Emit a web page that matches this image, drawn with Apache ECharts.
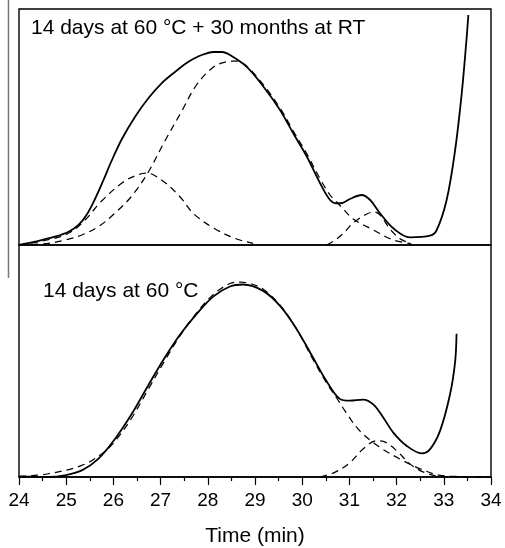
<!DOCTYPE html>
<html>
<head>
<meta charset="utf-8">
<script src="https://cdn.jsdelivr.net/npm/echarts@6/dist/echarts.min.js"></script>
<style>html,body{margin:0;padding:0;background:#fff}#c{width:505px;height:548px}</style>
</head>
<body>
<div id="c"></div>
<script>
// ---- Data (time in min, signal in arbitrary units) ----
const xTicks = [24, 25, 26, 27, 28, 29, 30, 31, 32, 33, 34];
const labelTop = '14 days at 60 °C + 30 months at RT';
const labelBottom = '14 days at 60 °C';
const xName = 'Time (min)';

// Top panel: measured trace
const topSolidT = [24.0, 24.34, 24.76, 25.05, 25.26, 25.43, 25.61, 25.79, 25.96, 26.18, 26.46, 26.74, 27.02, 27.31, 27.52, 27.69, 27.9, 28.12, 28.3, 28.47, 28.82, 29.18, 29.53, 29.81, 30.10, 30.38, 30.59, 30.73, 30.85, 31.01, 31.26, 31.44, 31.65, 31.93, 32.28, 32.71, 32.85, 33.06, 33.24, 33.38, 33.48, 33.52];
const topSolidV = [0, 3.3, 8.3, 13.3, 20, 30, 46, 65, 84, 106, 128.3, 146.7, 161.7, 173.3, 181, 186, 190.5, 193, 193, 190, 178.3, 158.3, 135, 111.7, 88.3, 61.7, 45, 41.7, 42, 46, 50, 45, 31.7, 16.7, 7.7, 9.3, 15, 45, 95, 151.7, 205, 230];
// Top panel: fitted components
const topFit1T = [24.0, 24.5, 25.05, 25.40, 25.75, 26.18, 26.45, 26.70, 27.02, 27.41, 27.69, 28.12, 28.61, 28.96];
const topFit1V = [0, 4, 11.7, 25, 44, 62, 69, 72, 65, 48.3, 31.7, 17, 6, 1.7];
const topFit2T = [24.0, 24.62, 24.97, 25.33, 25.68, 26.03, 26.39, 26.74, 27.09, 27.45, 27.76, 28.12, 28.40, 28.6, 28.82, 29.18, 29.53, 29.81, 30.10, 30.38, 30.59, 30.73, 30.87, 31.08, 31.51, 31.93, 32.30];
const topFit2V = [0, 1.7, 5, 10, 18.3, 31.7, 49, 73, 104, 134, 160, 178, 183.3, 184, 179, 160, 137, 114, 91, 66, 50, 43, 36, 26, 15, 5, 1.5];
const topFit3T = [30.52, 30.70, 30.87, 31.08, 31.37, 31.52, 31.65, 31.86, 32.05, 32.21, 32.32];
const topFit3V = [0, 5, 11.7, 22, 31, 33, 30, 16, 7, 3, 0.5];

// Bottom panel: measured trace
const botSolidT = [24.0, 24.62, 24.97, 25.33, 25.68, 26.03, 26.39, 26.74, 27.09, 27.41, 27.76, 28.12, 28.47, 28.75, 29.18, 29.53, 29.88, 30.24, 30.52, 30.80, 31.01, 31.29, 31.51, 31.72, 31.93, 32.21, 32.53, 32.71, 32.92, 33.13, 33.24, 33.27];
const botSolidV = [0.7, 0, 1.7, 6.7, 18.3, 38.3, 64, 93, 121, 144, 165, 183, 193, 195, 188.3, 173.3, 150, 120, 96.7, 79, 77.3, 78.3, 73.3, 60, 45, 31.7, 24, 28.3, 46.7, 83.3, 116.7, 145];
// Bottom panel: fitted components
const botFit1T = [24.0, 24.62, 25.33, 25.75, 26.03, 26.39, 26.74, 27.09, 27.41, 27.76, 28.12, 28.47, 28.68, 28.9, 29.18, 29.53, 29.88, 30.24, 30.52, 30.73, 30.91, 31.22, 31.65, 32.07, 32.50, 32.92, 33.5, 34.0];
const botFit1V = [0.3, 3.3, 11.7, 23.3, 36, 60, 89, 118, 143, 166, 185, 196, 197.5, 196, 190, 174, 150, 118, 95, 80, 66.7, 46.7, 30, 18.3, 8.3, 1.7, 0.3, 0];
const botFit2T = [30.38, 30.7, 31.0, 31.29, 31.58, 31.72, 32.0, 32.28, 32.57, 32.92, 33.5, 34.0];
const botFit2V = [0, 5, 14, 28.3, 36.7, 36, 26.7, 13.3, 5, 0.7, 0, 0];

const zip = (t, v) => t.map((x, i) => [x, v[i]]);

const chart = echarts.init(document.getElementById('c'), null, {renderer: 'canvas'});
const FONT = '"Liberation Sans", Arial, sans-serif';
const solid = {color: '#000', width: 1.8};
const dashed = {color: '#000', width: 1.25, type: [7, 5]};

function line(data, xi, style) {
  return {
    type: 'line', xAxisIndex: xi, yAxisIndex: xi, data: data,
    showSymbol: false, symbol: 'none', smooth: 0.35, silent: true,
    lineStyle: style, animation: false
  };
}

chart.setOption({
  animation: false,
  backgroundColor: '#fff',
  grid: [
    {left: 19, right: 14, top: 9, height: 236, show: true, borderColor: '#000', borderWidth: 1.4, backgroundColor: 'transparent'},
    {left: 19, right: 14, top: 245, height: 235, show: true, borderColor: '#000', borderWidth: 1.4, backgroundColor: 'transparent'}
  ],
  xAxis: [
    {type: 'value', gridIndex: 0, min: 24, max: 34, interval: 1, show: false},
    {
      type: 'value', gridIndex: 1, min: 24, max: 34, interval: 1,
      name: xName, nameLocation: 'middle', nameGap: 49,
      nameTextStyle: {fontFamily: FONT, fontSize: 21, color: '#000'},
      axisLine: {show: true, lineStyle: {color: '#000', width: 1.6}},
      axisTick: {show: true, inside: false, length: 8, lineStyle: {color: '#000', width: 1.2}},
      minorTick: {show: true, splitNumber: 2, length: 4, lineStyle: {color: '#000', width: 1.2}},
      axisLabel: {fontFamily: FONT, fontSize: 19, color: '#000', margin: 14,
        formatter: v => (xTicks.indexOf(v) >= 0 ? String(v) : '')},
      splitLine: {show: false}, minorSplitLine: {show: false}
    }
  ],
  yAxis: [
    {type: 'value', gridIndex: 0, min: 0, max: 236, show: false},
    {type: 'value', gridIndex: 1, min: 0, max: 235, show: false}
  ],
  series: [
    line(zip(topFit1T, topFit1V), 0, dashed),
    line(zip(topFit2T, topFit2V), 0, dashed),
    line(zip(topFit3T, topFit3V), 0, dashed),
    line(zip(topSolidT, topSolidV), 0, solid),
    line(zip(botFit1T, botFit1V), 1, dashed),
    line(zip(botFit2T, botFit2V), 1, dashed),
    line(zip(botSolidT, botSolidV), 1, solid)
  ],
  graphic: [
    {type: 'line', shape: {x1: 8.5, y1: 0, x2: 8.5, y2: 278}, style: {stroke: '#777', lineWidth: 1.5}, silent: true},
    {type: 'text', x: 31, y: 28.5, style: {text: labelTop, font: '21px ' + FONT, fill: '#000', verticalAlign: 'middle', align: 'left'}, silent: true},
    {type: 'text', x: 43, y: 291, style: {text: labelBottom, font: '21px ' + FONT, fill: '#000', verticalAlign: 'middle', align: 'left'}, silent: true}
  ]
});
</script>
</body>
</html>
